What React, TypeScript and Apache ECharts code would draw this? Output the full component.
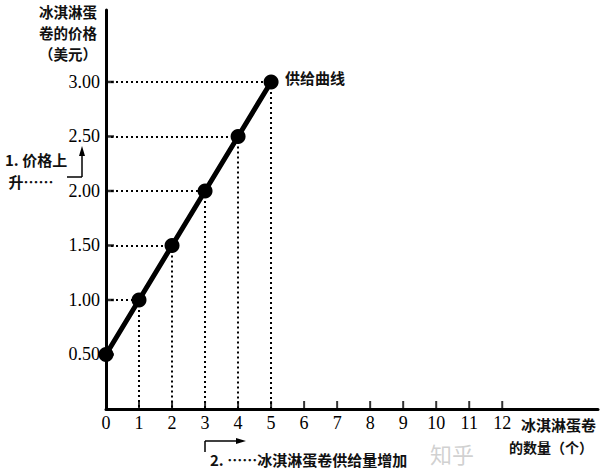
import React, { useEffect, useRef } from "react";
import * as echarts from "echarts";

const quantities = [0, 1, 2, 3, 4, 5];
const prices = [0.5, 1.0, 1.5, 2.0, 2.5, 3.0];
const xTickValues = [1, 2, 3, 4, 5, 6, 7, 8, 9, 10, 11, 12];
const yTickValues = [0.5, 1.0, 1.5, 2.0, 2.5, 3.0];
const yAxisTitle = ["冰淇淋蛋", "卷的价格", "（美元）"];
const xAxisTitle = ["冰淇淋蛋卷", "的数量（个）"];
const curveLabel = "供给曲线";
const note1a = "1. 价格上";
const note1b = "升……";
const note2 = "2. ……冰淇淋蛋卷供给量增加";

const CJK = '"Noto Sans CJK SC", "Noto Sans", sans-serif';
const SERIF = '"Liberation Serif", "DejaVu Serif", serif';

export default function App() {
  const ref = useRef<HTMLDivElement>(null);
  useEffect(() => {
    document.body.style.margin = "0";
    if (!ref.current) return;
    const chart = echarts.init(ref.current, undefined, { renderer: "svg" });
    const pts = quantities.map((q, i) => [q, prices[i]]);
    const guides: any[] = [];
    pts.forEach(([x, y]) => {
      if (x > 0) {
        guides.push([{ coord: [0, y] }, { coord: [x, y] }]);
        guides.push([{ coord: [x, y] }, { coord: [x, 0] }]);
      }
    });
    const yTitleTops = [4, 25, 46];
    chart.setOption({
      animation: false,
      backgroundColor: "#ffffff",
      grid: { left: 106, right: 2, top: 10, bottom: 65 },
      xAxis: {
        type: "value",
        min: 0,
        max: 14.9,
        interval: 1,
        splitLine: { show: false },
        axisTick: { show: false },
        axisLine: { lineStyle: { color: "#000", width: 3 } },
        axisLabel: {
          color: "#000",
          fontFamily: SERIF,
          fontSize: 18,
          margin: 5,
          showMaxLabel: false,
          formatter: (v: number) => (v <= 12 && Number.isInteger(v) ? String(v) : ""),
        },
      },
      yAxis: {
        type: "value",
        min: 0,
        max: 3.66,
        interval: 0.5,
        splitLine: { show: false },
        axisTick: { show: false },
        axisLine: { lineStyle: { color: "#000", width: 3 } },
        axisLabel: {
          color: "#000",
          fontFamily: SERIF,
          fontSize: 18,
          margin: 6,
          showMaxLabel: false,
          formatter: (v: number) =>
            v > 0 && v <= 3 && Math.abs(v * 2 - Math.round(v * 2)) < 1e-9 ? v.toFixed(2) : "",
        },
      },
      series: [
        {
          type: "line",
          data: [],
          markLine: {
            silent: true,
            symbol: "none",
            label: { show: false },
            lineStyle: { color: "#000", width: 2, type: [2, 3] },
            data: guides,
          },
          z: 1,
        },
        {
          type: "scatter",
          data: xTickValues.map((v) => [v, 0]),
          symbol: "rect",
          symbolSize: [2, 8],
          symbolOffset: [0, -4],
          itemStyle: { color: "#000" },
          z: 2,
        },
        {
          type: "scatter",
          data: yTickValues.map((v) => [0, v]),
          symbol: "rect",
          symbolSize: [8, 2.5],
          symbolOffset: [4, 0],
          itemStyle: { color: "#000" },
          z: 2,
        },
        {
          type: "line",
          data: pts,
          symbol: "circle",
          symbolSize: 15,
          lineStyle: { color: "#000", width: 5 },
          itemStyle: { color: "#000" },
          z: 5,
        },
      ],
      graphic: [
        ...yAxisTitle.map((t, i) => ({
          type: "text",
          x: 68,
          y: yTitleTops[i],
          style: {
            text: t,
            font: `bold 14.5px ${CJK}`,
            align: "center",
            verticalAlign: "top",
            fill: "#111",
          },
        })),
        {
          type: "text",
          left: 285,
          top: 70,
          style: { text: curveLabel, font: `bold 15px ${CJK}`, fill: "#111" },
        },
        {
          type: "text",
          left: 521,
          top: 417,
          style: { text: xAxisTitle[0], font: `bold 15px ${CJK}`, fill: "#111" },
        },
        {
          type: "text",
          left: 509,
          top: 440,
          style: { text: xAxisTitle[1], font: `bold 14px ${CJK}`, fill: "#111" },
        },
        {
          type: "text",
          left: 430,
          top: 442,
          style: { text: "知乎", font: `22px ${CJK}`, fill: "rgba(170,170,170,0.55)" },
        },
        {
          type: "text",
          x: 5,
          y: 148,
          style: {
            text: note1a + "\n " + note1b,
            font: `bold 15px ${CJK}`,
            lineHeight: 22,
            verticalAlign: "top",
            fill: "#111",
          },
        },
        { type: "line", shape: { x1: 67, y1: 177, x2: 82, y2: 177 }, style: { stroke: "#000", lineWidth: 1.5 } },
        { type: "line", shape: { x1: 82, y1: 177, x2: 82, y2: 152 }, style: { stroke: "#000", lineWidth: 1.5 } },
        { type: "polygon", shape: { points: [[82, 146], [79, 156], [85, 156]] }, style: { fill: "#000" } },
        { type: "line", shape: { x1: 205, y1: 441, x2: 240, y2: 441 }, style: { stroke: "#000", lineWidth: 1.5 } },
        { type: "line", shape: { x1: 205, y1: 441, x2: 205, y2: 452 }, style: { stroke: "#000", lineWidth: 1.5 } },
        { type: "polygon", shape: { points: [[246, 441], [236, 438], [236, 444]] }, style: { fill: "#000" } },
        {
          type: "text",
          left: 210,
          top: 452,
          style: { text: note2, font: `bold 15px ${CJK}`, fill: "#111" },
        },
      ],
    });
    return () => chart.dispose();
  }, []);
  return <div ref={ref} style={{ width: 600, height: 474 }} />;
}
